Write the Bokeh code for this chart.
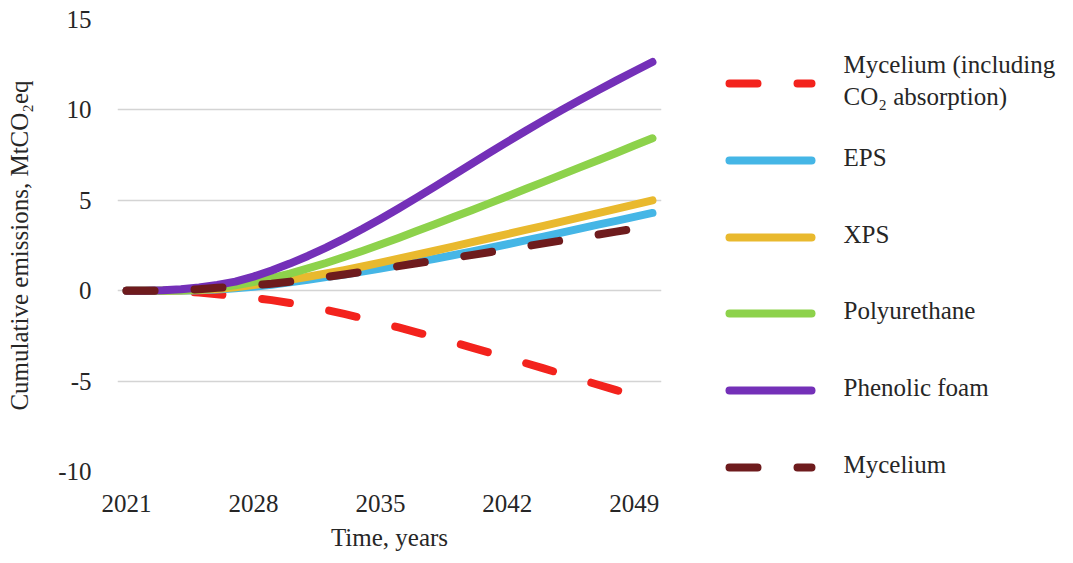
from bokeh.plotting import figure
from bokeh.layouts import row
from bokeh.models import Range1d, FixedTicker, ColumnDataSource
from bokeh.core.properties import value
from bokeh.embed import file_html
from bokeh.resources import INLINE

# ---------------- data ----------------
years = list(range(2021, 2051))

mycelium_co2 = [0, 0, 0, -0.02, -0.1, -0.2, -0.3, -0.4, -0.52, -0.68, -0.86, -1.06, -1.28,
                -1.52, -1.77, -2.03, -2.3, -2.57, -2.85, -3.13, -3.42, -3.71, -4.0, -4.3,
                -4.6, -4.9, -5.2, -5.5, -5.8, -6.1]
eps = [0, 0, 0, 0, 0.02, 0.06, 0.13, 0.22, 0.33, 0.46, 0.6, 0.75, 0.9, 1.06, 1.22, 1.4,
       1.58, 1.77, 1.96, 2.16, 2.36, 2.57, 2.78, 2.99, 3.21, 3.43, 3.65, 3.86, 4.08, 4.3]
xps = [0, 0, 0, 0.01, 0.04, 0.1, 0.19, 0.31, 0.45, 0.6, 0.77, 0.95, 1.14, 1.34, 1.55, 1.77,
       1.99, 2.21, 2.44, 2.67, 2.9, 3.13, 3.36, 3.59, 3.82, 4.06, 4.29, 4.53, 4.76, 5.0]
polyurethane = [0, 0, 0, 0.02, 0.07, 0.16, 0.3, 0.48, 0.7, 0.95, 1.23, 1.53, 1.86, 2.2, 2.55,
                2.92, 3.3, 3.68, 4.06, 4.44, 4.83, 5.22, 5.62, 6.02, 6.42, 6.82, 7.22, 7.62,
                8.03, 8.43]
phenolic_foam = [0, 0, 0.02, 0.08, 0.18, 0.32, 0.5, 0.78, 1.12, 1.5, 1.92, 2.38, 2.88, 3.41,
                 3.97, 4.55, 5.15, 5.76, 6.38, 7.0, 7.62, 8.23, 8.83, 9.42, 9.99, 10.55,
                 11.09, 11.62, 12.14, 12.65]
mycelium = [0, 0, 0, 0.02, 0.08, 0.16, 0.24, 0.31, 0.38, 0.5, 0.63, 0.76, 0.9, 1.05, 1.2,
            1.36, 1.52, 1.67, 1.82, 1.97, 2.13, 2.29, 2.45, 2.62, 2.78, 2.94, 3.1, 3.27,
            3.43, 3.6]

x_ticks = [2021, 2028, 2035, 2042, 2049]
y_ticks = [-10, -5, 0, 5, 10, 15]
y_tick_labels = ["-10", "-5", "0", "5", "10", "15"]
series_labels = ["Mycelium (including\nCO\u2082 absorption)", "EPS", "XPS",
                 "Polyurethane", "Phenolic foam", "Mycelium"]
x_title = "Time, years"
y_title = "Cumulative emissions, MtCO\u2082eq"

# ---------------- styles ----------------
FONT = "Liberation Serif"
TXT = "#262626"
colors = ["#F3231D", "#45B6E6", "#E9B92E", "#8DD24B", "#7430B8", "#6E1B1D"]
dashed = [True, False, False, False, False, True]
DASH = "28 40"
LW = 8
TOP, BOTTOM = 19, 92

series = [mycelium_co2, eps, xps, polyurethane, phenolic_foam, mycelium]

p = figure(width=680, height=563, output_backend="svg", toolbar_location=None,
           x_range=Range1d(2020.5, 2050.5), y_range=Range1d(-10, 15),
           min_border_left=117, min_border_right=19, min_border_top=TOP,
           min_border_bottom=BOTTOM)
p.outline_line_color = None
p.background_fill_color = "white"
p.border_fill_color = "white"

for vals, c, d in zip(series, colors, dashed):
    src = ColumnDataSource(dict(x=years, y=vals))
    if d:
        p.line("x", "y", source=src, line_color=c, line_width=LW, line_cap="round",
               line_join="round", line_dash=DASH)
    else:
        p.line("x", "y", source=src, line_color=c, line_width=LW, line_cap="round",
               line_join="round")

p.xaxis.ticker = FixedTicker(ticks=x_ticks)
p.yaxis.ticker = FixedTicker(ticks=y_ticks)
p.yaxis.major_label_overrides = {t: s for t, s in zip(y_ticks, y_tick_labels)}
p.xgrid.grid_line_color = None
p.ygrid.grid_line_color = "#D4D4D4"
p.ygrid.grid_line_width = 1.3

for ax in (p.xaxis[0], p.yaxis[0]):
    ax.axis_line_color = None
    ax.major_tick_line_color = None
    ax.minor_tick_line_color = None
    ax.major_label_text_font = FONT
    ax.major_label_text_font_size = "25px"
    ax.major_label_text_color = TXT
    ax.axis_label_text_font = FONT
    ax.axis_label_text_font_size = "25px"
    ax.axis_label_text_font_style = "normal"
    ax.axis_label_text_color = TXT

p.xaxis.axis_label = x_title
p.yaxis.axis_label = y_title
p.yaxis.major_label_standoff = 20
p.yaxis.axis_label_standoff = 22
p.xaxis.major_label_standoff = 17
p.xaxis.axis_label_standoff = 9

# ---------------- legend panel ----------------
lg = figure(width=393, height=563, output_backend="svg", toolbar_location=None,
            x_range=Range1d(0, 393), y_range=Range1d(563, 0),
            x_axis_type=None, y_axis_type=None, min_border=0)
lg.outline_line_color = None
lg.grid.visible = False
lg.background_fill_color = "white"
lg.border_fill_color = "white"

for fig in (p, lg):
    try:
        fig.frame_align = False
    except Exception:
        pass

item_y = [83, 160, 237, 313, 390, 467]
for yy, c, d in zip(item_y, colors, dashed):
    kw = dict(line_color=c, line_width=LW, line_cap="round")
    if d:
        kw["line_dash"] = DASH
    lg.line([49, 131], [yy, yy], **kw)

lg.text(x=[163] * len(series_labels), y=[yy - 3 for yy in item_y], text=series_labels,
        text_font=value(FONT), text_font_size=value("25px"), text_color=TXT,
        text_baseline="middle", text_align="left")

layout = row(p, lg)
open("out.html", "w").write(file_html(layout, INLINE))
